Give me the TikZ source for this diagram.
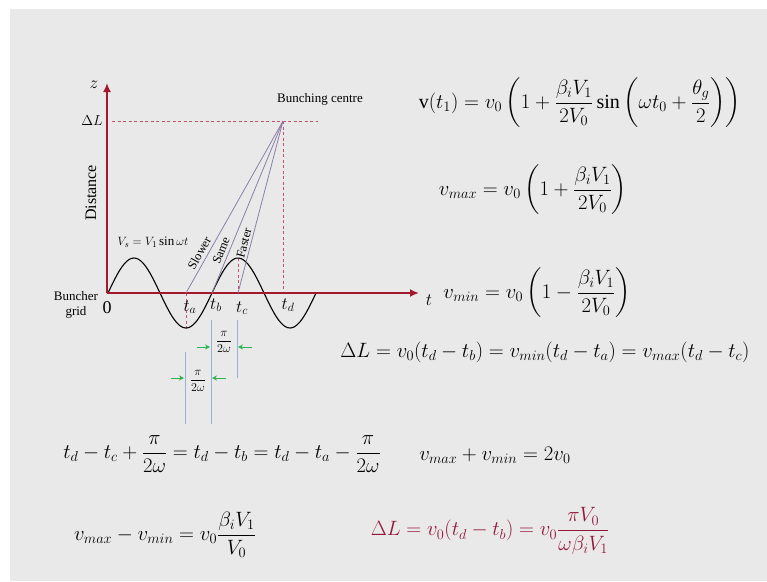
\documentclass[tikz,border=0pt]{standalone}
\usepackage{amsmath}
\usepackage{fontspec}
\setmainfont{Liberation Serif}
\usetikzlibrary{arrows.meta}

\definecolor{axisred}{HTML}{A3192B}
\definecolor{eqred}{HTML}{94173A}
\definecolor{guidered}{HTML}{C8506A}
\definecolor{raygrey}{HTML}{8A80A6}
\definecolor{tickblue}{HTML}{98B2D6}
\definecolor{arrowgreen}{HTML}{2DB34E}
\definecolor{slidegrey}{HTML}{E9E9E9}

\begin{document}
\begin{tikzpicture}[
                x=1pt,
                y=-1pt,
                axis/.style={
                    draw=axisred,
                    line width=2.6pt,
                    -{Latex[length=9pt,width=8pt]}
                },
                guide/.style={
                    draw=guidered,
                    line width=0.9pt,
                    dash pattern=on 3pt off 2.5pt
                },
                ray/.style={
                    draw=raygrey,
                    line width=0.8pt
                },
                tick/.style={
                    draw=tickblue,
                    line width=1pt
                },
                gap/.style={
                    draw=arrowgreen,
                    line width=1pt,
                    -{Stealth[length=5pt,width=5pt]}
                },
                lbl/.style={
                    font=\fontsize{13}{15}\selectfont,
                    inner sep=1pt
                },
                raylbl/.style={
                    font=\fontsize{12.5}{14}\selectfont,
                    inner sep=0.3pt
                },
                tlbl/.style={
                    font=\fontsize{18}{20}\selectfont,
                    inner sep=0pt
                },
                eqn/.style={
                    font=\fontsize{21.5}{25}\selectfont,
                    inner sep=0pt
                }
            ]

        \newcommand{\halfgap}[3]{%
            \draw[gap] (#1-14,#3) -- (#1-1,#3);
            \draw[gap] (#2+15,#3) -- (#2+1,#3);
        }

        % slide
        \useasboundingbox (0,0) rectangle (767,581);
        \fill[white] (0,0) rectangle (767,581);
        \fill[slidegrey] (10,9) rectangle (767,581);

        % axes
        \coordinate (O) at (107,293);
        \coordinate (ztop) at (107,83);
        \coordinate (tend) at (419,293);
        \coordinate (B) at (283,121);
        \coordinate (ta) at (186,293);
        \coordinate (tb) at (212,293);
        \coordinate (tc) at (238,293);
        \coordinate (td) at (283,293);

        \draw[guide] (112,121) -- (B) -- (318,121);
        \draw[guide] (B) -- (td);
        \draw[guide] (238,258) -- (tc);
        \draw[guide] (ta) -- (186,330);

        % modulating voltage
        \draw[line width=1.1pt]
            plot[domain=108:316, samples=90] (\x, {293-35*sin((\x-108)/52*180)});

        \draw[axis] (O) -- (ztop);
        \draw[axis] (O) -- (tend);

        % rays to bunching centre
        \draw[ray] (ta) -- node[pos=0.21, sloped, above=3pt, raylbl] {Slower} (B);
        \draw[ray] (tb) -- node[pos=0.23, sloped, above=3pt, raylbl] {Same} (B);
        \draw[ray] (tc) -- node[pos=0.28, sloped, above=2pt, raylbl] {Faster} (B);

        % labels
        \node[lbl] (bc) at (320,99) {Bunching centre};
        \node[tlbl, font=\fontsize{16}{18}\selectfont] (zl) at (94,85) {$z$};
        \node[tlbl, font=\fontsize{15}{17}\selectfont] (dl) at (92,121) {$\Delta L$};
        \node[lbl, font=\fontsize{16}{18}\selectfont, rotate=90] (dist) at (91,193) {Distance};
        \node[lbl] (vs) at (153,242) {$V_s = V_1\sin\omega t$};
        \node[lbl, align=center] (grid) at (76,305) {Buncher\\grid};
        \node[tlbl] (zero) at (107,308) {0};
        \node[tlbl] (tl) at (429,300) {$t$};
        \node[tlbl] (lta) at (190,307) {$t_a$};
        \node[tlbl] (ltb) at (216,305) {$t_b$};
        \node[tlbl] (ltc) at (242,308) {$t_c$};
        \node[tlbl] (ltd) at (288,305) {$t_d$};

        % quarter period marks
        \draw[tick] (211,320) -- (211,424);
        \draw[tick] (237,320) -- (237,378);
        \draw[tick] (185,352) -- (185,424);
        \halfgap{211}{237}{347}
        \halfgap{185}{211}{378}
        \node[lbl, font=\fontsize{11.5}{13}\selectfont] (q1) at (224,342) {$\dfrac{\pi}{2\omega}$};
        \node[lbl, font=\fontsize{11.5}{13}\selectfont] (q2) at (198,381) {$\dfrac{\pi}{2\omega}$};

        % equations
        \node[eqn, font=\fontsize{20}{24}\selectfont] (e1) at (580,103)
            {$\mathrm{v}(t_1)=v_0\left(1+\dfrac{\beta_iV_1}{2V_0}\sin\left(\omega t_0+\dfrac{\theta_g}{2}\right)\right)$};
        \node[eqn] (e2) at (533,190)
            {$v_{max}=v_0\left(1+\dfrac{\beta_iV_1}{2V_0}\right)$};
        \node[eqn] (e3) at (537,293)
            {$v_{min}=v_0\left(1-\dfrac{\beta_iV_1}{2V_0}\right)$};
        \node[eqn] (e4) at (545,352)
            {$\Delta L=v_0(t_d-t_b)=v_{min}(t_d-t_a)=v_{max}(t_d-t_c)$};
        \node[eqn] (e5) at (222,454)
            {$t_d-t_c+\dfrac{\pi}{2\omega}=t_d-t_b=t_d-t_a-\dfrac{\pi}{2\omega}$};
        \node[eqn] (e6) at (495,455)
            {$v_{max}+v_{min}=2v_0$};
        \node[eqn] (e7) at (165,535)
            {$v_{max}-v_{min}=v_0\dfrac{\beta_iV_1}{V_0}$};
        \node[eqn, text=eqred] (e8) at (490,531)
            {$\Delta L=v_0(t_d-t_b)=v_0\dfrac{\pi V_0}{\omega\beta_iV_1}$};

            \end{tikzpicture}
\end{document}
